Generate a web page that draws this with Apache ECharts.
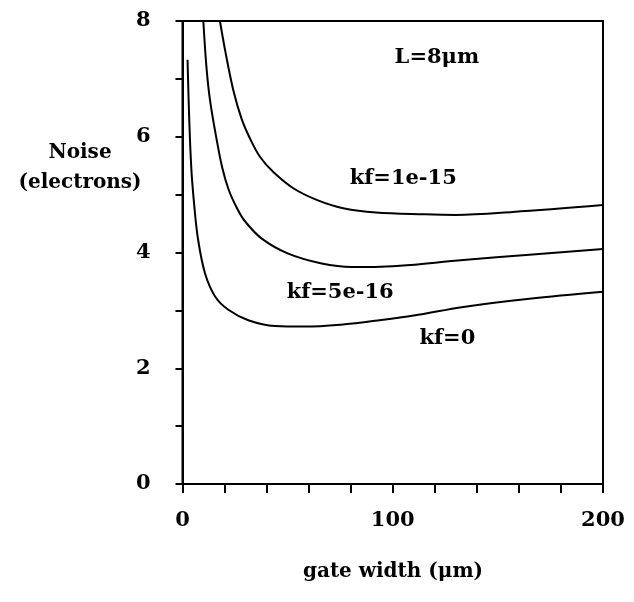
<!DOCTYPE html>
<html>
<head>
<meta charset="utf-8">
<script src="https://cdn.jsdelivr.net/npm/echarts@6/dist/echarts.min.js"></script>
<style>
  html, body { margin: 0; padding: 0; background: #fff; }
  #chart { width: 634px; height: 602px; }
</style>
</head>
<body>
<div id="chart"></div>
<script>
// 数据 (gate width, noise)
var kf0 = [[2.4, 7.33], [3.2, 6.3], [4.2, 5.45], [5.5, 4.85], [7.3, 4.25], [10.7, 3.64], [15.5, 3.24],
  [21.8, 3.01], [31.3, 2.83], [44, 2.73], [58.3, 2.72], [77.3, 2.76], [91.6, 2.82], [110, 2.91],
  [133.6, 3.06], [165, 3.2], [200, 3.32]];
var kf5e16 = [[9.9, 8], [11.4, 7.2], [13.1, 6.63], [16.3, 5.94], [19, 5.45], [22, 5.08], [26, 4.76],
  [29.7, 4.54], [37.7, 4.24], [50.3, 3.98], [66.2, 3.81], [80.5, 3.75], [91.6, 3.75], [103.4, 3.77],
  [133.6, 3.87], [165, 3.96], [200, 4.06]];
var kf1e15 = [[17.8, 8], [20.5, 7.45], [24.2, 6.8], [28.2, 6.3], [32.1, 5.97], [36.9, 5.65], [43.2, 5.39],
  [52.7, 5.11], [63.8, 4.91], [77, 4.76], [92, 4.69], [115, 4.66], [130, 4.65], [157, 4.70], [200, 4.82]];
var xLabels = [0, 100, 200];
var yLabels = [0, 2, 4, 6, 8];
// 曲线标注 (数据坐标)
var notes = [
  { text: 'L=8\u03bcm', at: [121, 7.37] },
  { text: 'kf=1e-15', at: [105, 5.28] },
  { text: 'kf=5e-16', at: [75, 3.30] },
  { text: 'kf=0', at: [126, 2.52] }
];

var font = '"DejaVu Serif", serif';
var dom = document.getElementById('chart');
var myChart = echarts.init(dom);

function curve(name, data) {
  return {
    name: name,
    type: 'line',
    data: data,
    smooth: 0.35,
    showSymbol: false,
    silent: true,
    lineStyle: { color: '#000', width: 2 }
  };
}

myChart.setOption({
  animation: false,
  grid: {
    left: 182.5, right: 31, top: 21, bottom: 118,
    show: true, borderColor: '#000', borderWidth: 2
  },
  xAxis: {
    type: 'value',
    min: 0, max: 200, interval: 20,
    axisLine: { lineStyle: { color: '#000', width: 2 } },
    axisTick: { length: 9, lineStyle: { color: '#000', width: 2 } },
    splitLine: { show: false },
    axisLabel: {
      color: '#000', fontFamily: font, fontSize: 21, fontWeight: 'bold', margin: 26,
      formatter: function (v) { return xLabels.indexOf(v) >= 0 ? String(v) : ''; }
    }
  },
  yAxis: {
    type: 'value',
    min: 0, max: 8, interval: 1,
    axisLine: { show: true, lineStyle: { color: '#000', width: 2 } },
    axisTick: { show: true, length: 7, lineStyle: { color: '#000', width: 2 } },
    splitLine: { show: false },
    axisLabel: {
      color: '#000', fontFamily: font, fontSize: 21, fontWeight: 'bold', margin: 32,
      formatter: function (v) { return yLabels.indexOf(v) >= 0 ? String(v) : ''; }
    }
  },
  series: [
    curve('kf=0', kf0),
    curve('kf=5e-16', kf5e16),
    curve('kf=1e-15', kf1e15)
  ]
});

// 文字标注
var graphics = notes.map(function (n) {
  var p = myChart.convertToPixel({ gridIndex: 0 }, n.at);
  return {
    type: 'text', x: p[0], y: p[1],
    style: { text: n.text, fill: '#000', font: 'bold 21px ' + font, align: 'center', verticalAlign: 'middle' }
  };
});
graphics.push({
  type: 'text', x: 80, y: 168,
  style: { text: 'Noise\n(electrons)', fill: '#000', font: 'bold 20px ' + font, align: 'center', verticalAlign: 'middle', lineHeight: 30 }
});
graphics.push({
  type: 'text', x: 393, y: 572,
  style: { text: 'gate width (\u03bcm)', fill: '#000', font: 'bold 20px ' + font, align: 'center', verticalAlign: 'middle' }
});
myChart.setOption({ graphic: graphics });

window.addEventListener('resize', function () {
  myChart.resize();
});
</script>
</body>
</html>
